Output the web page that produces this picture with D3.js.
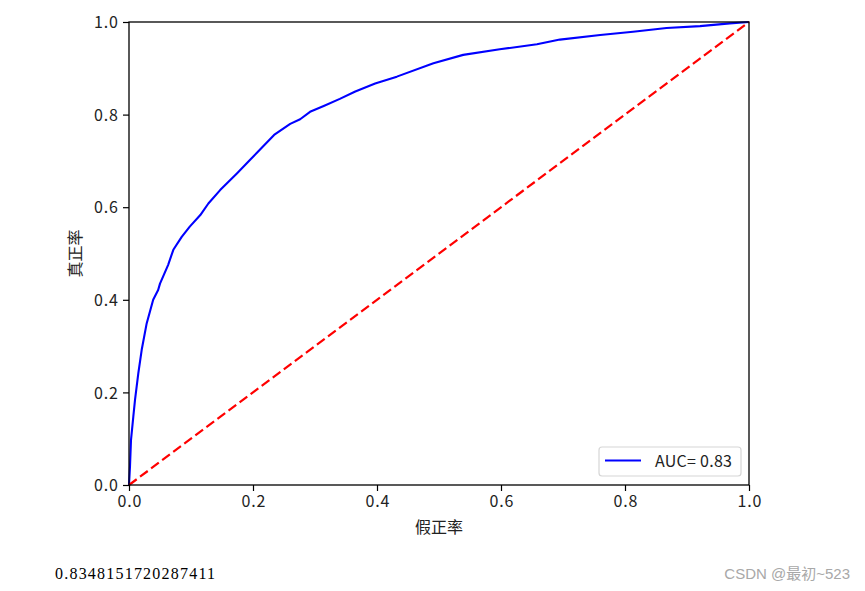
<!DOCTYPE html>
<html>
<head>
<meta charset="utf-8">
<script src="https://cdn.jsdelivr.net/npm/d3@7"></script>
<style>
  html, body { margin: 0; padding: 0; background: #fff; }
  svg { display: block; }
</style>
</head>
<body>
<svg id="chart" width="865" height="591"></svg>
<script>
// ROC curve data
const fpr = [0, 0.0016, 0.0032, 0.007, 0.0097, 0.015, 0.0205, 0.0285, 0.039, 0.047, 0.05, 0.063, 0.0715, 0.085, 0.098, 0.115, 0.128, 0.147, 0.174, 0.195, 0.211, 0.234, 0.26, 0.276, 0.292, 0.315, 0.34, 0.365, 0.397, 0.432, 0.491, 0.539, 0.598, 0.658, 0.695, 0.76, 0.813, 0.867, 0.921, 0.969, 1];
const tpr = [0, 0.04, 0.097, 0.148, 0.184, 0.241, 0.292, 0.349, 0.40, 0.421, 0.435, 0.475, 0.508, 0.536, 0.558, 0.583, 0.608, 0.637, 0.673, 0.702, 0.724, 0.756, 0.78, 0.79, 0.806, 0.819, 0.834, 0.85, 0.867, 0.882, 0.911, 0.929, 0.941, 0.952, 0.962, 0.972, 0.979, 0.987, 0.991, 0.997, 1];
const diagX = [0, 1];
const diagY = [0, 1];
const xTicks = [0, 0.2, 0.4, 0.6, 0.8, 1.0];
const yTicks = [0, 0.2, 0.4, 0.6, 0.8, 1.0];
const xLabel = "假正率";
const yLabel = "真正率";
const legendLabel = "AUC= 0.83";
const printedAuc = "0.8348151720287411";
const watermark = "CSDN @最初~523";

(function () {
const svg = d3.select("#chart");
const pL = 129, pR = 749, pT = 22, pB = 485;
const x = d3.scaleLinear().domain([0, 1]).range([pL, pR]);
const y = d3.scaleLinear().domain([0, 1]).range([pB, pT]);
const tickFont = "'Noto Sans CJK SC', 'DejaVu Sans', sans-serif";

// curves
const line = d3.line().x(d => x(d[0])).y(d => y(d[1]));
svg.append("path")
  .datum(fpr.map((v, i) => [v, tpr[i]]))
  .attr("d", line)
  .attr("fill", "none")
  .attr("stroke", "#0000ff")
  .attr("stroke-width", 2.1)
  .attr("stroke-linejoin", "round");

svg.append("path")
  .datum(diagX.map((v, i) => [v, diagY[i]]))
  .attr("d", line)
  .attr("fill", "none")
  .attr("stroke", "#ff0000")
  .attr("stroke-width", 2.2)
  .attr("stroke-dasharray", "9.6,4.2");

// axes
const xAxis = d3.axisBottom(x).tickValues(xTicks).tickFormat(d3.format(".1f")).tickSize(6).tickPadding(5);
const yAxis = d3.axisLeft(y).tickValues(yTicks).tickFormat(d3.format(".1f")).tickSize(6).tickPadding(5);

const gx = svg.append("g").attr("transform", `translate(0,${pB})`).call(xAxis);
const gy = svg.append("g").attr("transform", `translate(${pL},0)`).call(yAxis);
[gx, gy].forEach(g => {
  g.select(".domain").remove();
  g.selectAll(".tick line").attr("stroke", "#000").attr("stroke-width", 1.2);
  g.selectAll(".tick text")
    .attr("fill", "#222")
    .style("font-family", tickFont)
    .style("font-size", "16px")
    .attr("textLength", 24)
    .attr("lengthAdjust", "spacing");
});
gy.selectAll(".tick text").attr("dy", "0.36em");

// spines
svg.append("rect")
  .attr("x", pL).attr("y", pT)
  .attr("width", pR - pL).attr("height", pB - pT)
  .attr("fill", "none").attr("stroke", "#000").attr("stroke-width", 1.3);

// axis labels
svg.append("text")
  .attr("x", (pL + pR) / 2).attr("y", 533)
  .attr("text-anchor", "middle")
  .style("font-family", tickFont).style("font-size", "16px")
  .attr("fill", "#222")
  .text(xLabel);

svg.append("text")
  .attr("transform", `translate(81,${(pT + pB) / 2}) rotate(-90)`)
  .attr("text-anchor", "middle")
  .style("font-family", tickFont).style("font-size", "16px")
  .attr("fill", "#222")
  .text(yLabel);

// legend
const lg = svg.append("g");
lg.append("rect")
  .attr("x", 599).attr("y", 447).attr("width", 142).attr("height", 29)
  .attr("rx", 3).attr("ry", 3)
  .attr("fill", "#fff").attr("fill-opacity", 0.8)
  .attr("stroke", "#d6d6d6").attr("stroke-width", 1.2);
lg.append("line")
  .attr("x1", 605).attr("x2", 641).attr("y1", 460.5).attr("y2", 460.5)
  .attr("stroke", "#0000ff").attr("stroke-width", 2.1);
lg.append("text")
  .attr("x", 655).attr("y", 466.5)
  .attr("textLength", 77)
  .style("font-family", tickFont).style("font-size", "16px")
  .attr("fill", "#222")
  .text(legendLabel);

// printed output below the figure
svg.append("text")
  .attr("x", 55).attr("y", 579)
  .attr("textLength", 160)
  .style("font-family", "'Liberation Serif', 'DejaVu Serif', serif")
  .style("font-size", "16px")
  .attr("fill", "#000")
  .text(printedAuc);

svg.append("text")
  .attr("x", 850).attr("y", 579)
  .attr("text-anchor", "end")
  .style("font-family", "'Liberation Sans', 'Noto Sans CJK SC', sans-serif")
  .style("font-size", "15px")
  .attr("fill", "#a8a8a8")
  .text(watermark);
})();
</script>
</body>
</html>
